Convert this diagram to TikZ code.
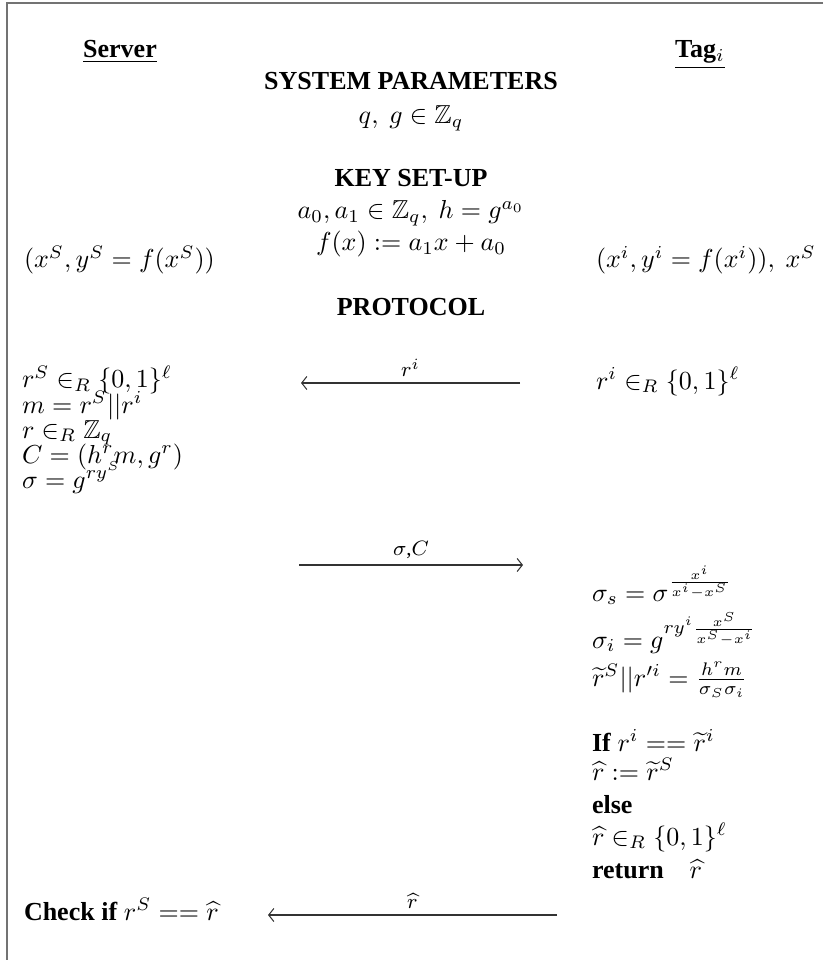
\documentclass[tikz,border=0pt]{standalone}
\usepackage{amsmath,amssymb}
\usepackage{fontspec}
\setmainfont{Liberation Serif}
\usetikzlibrary{arrows.meta}
\begin{document}
\begin{tikzpicture}[x=0.3846pt,y=-0.3846pt,
  every node/.style={inner sep=0pt,outer sep=0pt},
  lft/.style={anchor=base west},
  ctr/.style={anchor=base},
  hd/.style={anchor=base,font=\bfseries},
  lbl/.style={anchor=south,font=\footnotesize},
  msg/.style={draw=black!80,line width=0.4pt,-{Straight Barb[length=2pt,width=5pt]}},
  frame/.style={draw=black!55,line width=0.6pt}]
\useasboundingbox (0,0) rectangle (823,960);
\draw[frame] (823,3) -- (7,3) -- (7,960);

\node[hd] (server) at (120,58) {\underline{Server}};
\node[hd] (tag) at (700,58) {\underline{Tag$_i$}};

\node[hd] (sp) at (411,90) {SYSTEM PARAMETERS};
\node[ctr] (spv) at (411,124) {$q,\ g\in\mathbb{Z}_q$};

\node[hd] (ks) at (411,187) {KEY SET-UP};
\node[ctr] (ks1) at (411,219) {$a_0,a_1\in\mathbb{Z}_q,\ h=g^{a_0}$};
\node[ctr] (ks2) at (411,251) {$f(x):=a_1x+a_0$};
\node[lft] (skey) at (24,268) {$(x^S,y^S=f(x^S))$};
\node[lft] (tkey) at (596,268) {$(x^i,y^i=f(x^i)),\ x^S$};

\node[hd] (pr) at (411,316) {PROTOCOL};

\node[lft] (s1) at (22,388) {$r^S\in_R\{0,1\}^\ell$};
\node[lft] (s2) at (22,413) {$m=r^S||r^i$};
\node[lft] (s3) at (22,438) {$r\in_R\mathbb{Z}_q$};
\node[lft] (s4) at (22,463) {$C=(h^rm,g^r)$};
\node[lft] (s5) at (22,488) {$\sigma=g^{ry^S}$};

\node[lft] (t1) at (596,389) {$r^i\in_R\{0,1\}^\ell$};

\coordinate (a1s) at (520,383);
\coordinate (a1e) at (301,383);
\draw[msg] (a1s) -- node[lbl,above=2.5pt] {$r^i$} (a1e);

\coordinate (a2s) at (299,565);
\coordinate (a2e) at (523,565);
\draw[msg] (a2s) -- node[lbl,above=2.5pt] {$\sigma$,$C$} (a2e);

\node[lft] (t2) at (592,601) {$\sigma_s=\sigma^{\frac{x^i}{x^i-x^S}}$};
\node[lft] (t3) at (592,648) {$\sigma_i=g^{ry^i\frac{x^S}{x^S-x^i}}$};
\node[lft] (t4) at (592,686) {$\widetilde{r}^S||r'^i=\frac{h^rm}{\sigma_S\sigma_i}$};

\node[lft] (t5) at (592,751) {\textbf{If} $r^i==\widetilde{r}^i$};
\node[lft] (t6) at (592,780) {$\widehat{r}:=\widetilde{r}^S$};
\node[lft] (t7) at (592,813) {\textbf{else}};
\node[lft] (t8) at (592,845) {$\widehat{r}\in_R\{0,1\}^\ell$};
\node[lft] (t9) at (592,878) {\textbf{return}\quad$\widehat{r}$};

\node[lft] (chk) at (24,920) {\textbf{Check if} $r^S==\widehat{r}$};
\coordinate (a3s) at (557,915);
\coordinate (a3e) at (268,915);
\draw[msg] (a3s) -- node[lbl,above=2.5pt] {$\widehat{r}$} (a3e);
\end{tikzpicture}
\end{document}
